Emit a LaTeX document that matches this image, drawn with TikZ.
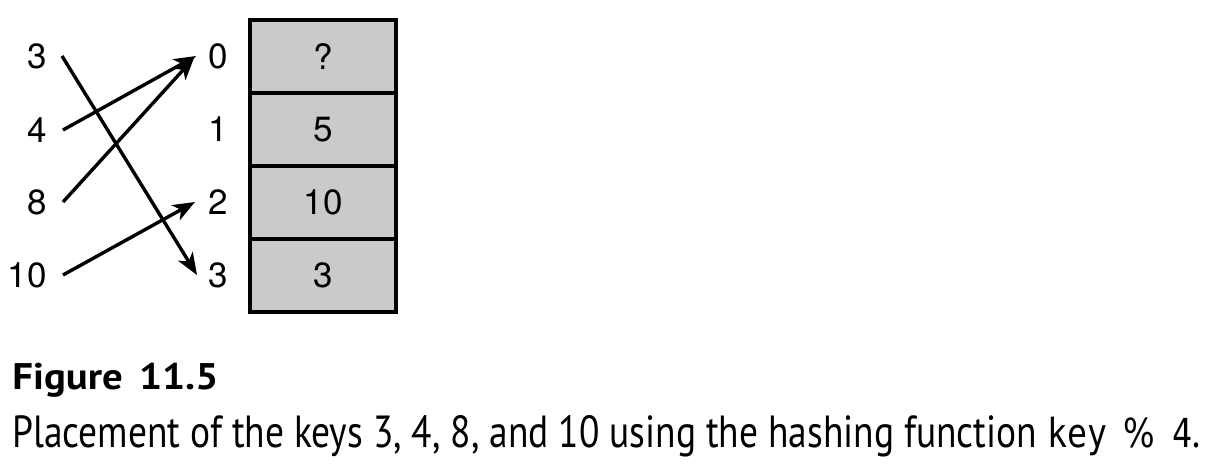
\documentclass[tikz,border=0pt]{standalone}
\usepackage{fontspec}
\usepackage{graphicx}
\setmainfont{TeX Gyre Heros}
\newfontfamily\capfont{PT Sans}
\newfontfamily\capmono{DejaVu Sans Mono}
\newfontfamily\pctfont{DejaVu Sans}
\usetikzlibrary{arrows.meta}
\definecolor{cellgray}{HTML}{CACACA}
\newlength\capwidth
\newlength\titlewidth
\newcommand\captext{\capfont\fontsize{22.5}{26}\selectfont Placement of the keys 3, 4, 8, and 10 using the hashing function {\capmono\fontsize{20}{24}\selectfont key\hspace{-0.1em} {\pctfont\%}\hspace{-0.1em} 4}.}
\newcommand\titletext{\capfont\bfseries\fontsize{18.5}{22}\selectfont Figure\hspace{0.4em}11.5}
\begin{document}
\settowidth\capwidth{\captext}%
\settowidth\titlewidth{\titletext}%
\pgfmathsetmacro\capsx{594/\capwidth}%
\pgfmathsetmacro\titlesx{103/\titlewidth}%
\begin{tikzpicture}[x=0.5pt,y=-0.5pt,
  num/.style={font=\fontsize{17.5}{20}\selectfont, inner sep=0pt},
  cell/.style={draw, line width=2pt, fill=cellgray, minimum width=73pt, minimum height=36.5pt, inner sep=0pt, font=\fontsize{17.5}{20}\selectfont},
  arr/.style={line width=1.7pt, -{Stealth[length=11pt,width=8.5pt,inset=3pt]}}]
\useasboundingbox (0,0) rectangle (1210,470);
% table
\node[cell] (c0) at (323,56.5) {?};
\node[cell] (c1) at (323,129.5) {5};
\node[cell] (c2) at (323,202.5) {10};
\node[cell] (c3) at (323,275.5) {3};
% indices
\node[num, anchor=west] (i0) at (208,56) {0};
\node[num, anchor=west] (i1) at (208,129) {1};
\node[num, anchor=west] (i2) at (208,202) {2};
\node[num, anchor=west] (i3) at (208,275) {3};
% keys
\node[num, anchor=east] (k3) at (47,56) {3};
\node[num, anchor=east] (k4) at (47,130) {4};
\node[num, anchor=east] (k8) at (47,202) {8};
\node[num, anchor=east] (k10) at (47,275) {10};
% arrows
\draw[arr] ([xshift=7.5pt]k3.east) -- ([xshift=-5.5pt]i3.west);
\draw[arr] ([xshift=8pt]k4.east) -- ([xshift=-6pt]i0.west);
\draw[arr] ([xshift=8pt]k8.east) -- ([xshift=-7pt,yshift=-1pt]i0.west);
\draw[arr] ([xshift=8pt]k10.east) -- ([xshift=-6.5pt]i2.west);
% caption
\node[anchor=base west, inner sep=0pt] (fig) at (12,389) {\scalebox{\titlesx}[1]{\titletext}};
\node[anchor=base west, inner sep=0pt] (cap) at (12,447) {\scalebox{\capsx}[1]{\captext}};
\end{tikzpicture}
\end{document}
